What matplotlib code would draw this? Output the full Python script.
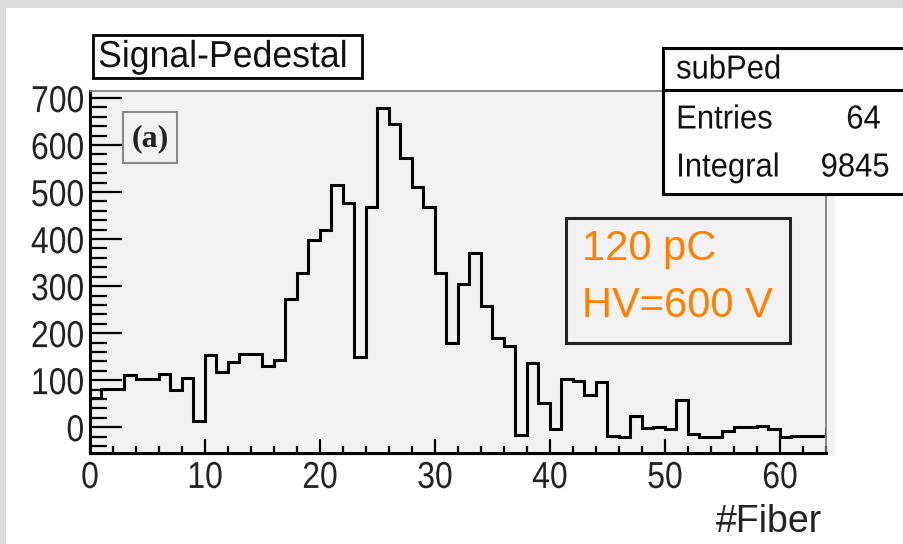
import numpy as np
import matplotlib
matplotlib.use("Agg")
import matplotlib.pyplot as plt
from matplotlib.patches import Rectangle
from matplotlib.patheffects import AbstractPathEffect
from matplotlib.transforms import Affine2D
from matplotlib.ticker import MultipleLocator

# subPed histogram: 64 fibers, pedestal subtracted signal
fiber_edges = np.arange(0, 65)
counts = [61, 82, 82, 111, 102, 102, 114, 79, 104, 13,
          153, 118, 138, 155, 155, 130, 143, 272, 327, 398,
          419, 515, 477, 150, 469, 678, 645, 573, 510, 469,
          328, 178, 304, 370, 258, 189, 173, -17, 137, 52,
          -3, 102, 99, 69, 97, -19, -21, 24, -1, 0,
          -3, 58, -14, -21, -21, -9, 0, 0, 2, -3,
          -21, -19, -19, -19]
x_ticks = [0, 10, 20, 30, 40, 50, 60]
y_ticks = [0, 100, 200, 300, 400, 500, 600, 700]
n_entries = 64
integral = 9845

W, H = 904, 544
sans = ["Liberation Sans", "DejaVu Sans"]


class Squeeze(AbstractPathEffect):
    """Narrows glyphs horizontally around a fixed anchor of the text."""

    def __init__(self, sx, anchor="center"):
        super().__init__()
        self.sx = sx
        self.anchor = anchor

    def draw_path(self, renderer, gc, tpath, affine, rgbFace=None):
        ext = tpath.get_extents(affine)
        if self.anchor == "right":
            x0 = ext.x1
        elif self.anchor == "left":
            x0 = ext.x0
        else:
            x0 = 0.5 * (ext.x0 + ext.x1)
        squeeze = Affine2D().translate(-x0, 0).scale(self.sx, 1).translate(x0, 0)
        renderer.draw_path(gc, tpath, affine + squeeze, rgbFace)


fig = plt.figure(figsize=(W / 100, H / 100), dpi=100, facecolor="#dcdcdc")

def fx(px):
    return px / W

def fy(py):
    return 1 - py / H

# white canvas inside the outer grey border
fig.patches.append(Rectangle((fx(6), 0), fx(W - 6), fy(8), transform=fig.transFigure,
                             facecolor="white", edgecolor="none", zorder=-3))
# light pad fill
fig.patches.append(Rectangle((fx(90), fy(456)), fx(835 - 90), fy(91) - fy(456),
                             transform=fig.transFigure, facecolor="#f2f2f2",
                             edgecolor="none", zorder=-2))

ax = fig.add_axes([fx(90), fy(453), fx(826 - 90), fy(91) - fy(453)])
ax.set_facecolor("#f2f2f2")
ax.stairs(counts, fiber_edges, color="black", linewidth=2.2)

ax.set_xlim(0, 64)
ax.set_ylim(-55, 715)
ax.set_xticks(x_ticks)
ax.set_yticks(y_ticks)
ax.xaxis.set_minor_locator(MultipleLocator(2))
ax.yaxis.set_minor_locator(MultipleLocator(20))
ax.tick_params(axis="both", which="both", direction="in", top=False, right=False,
               colors="black", width=1.6)
ax.tick_params(axis="x", which="major", length=10, pad=5)
ax.tick_params(axis="x", which="minor", length=5)
ax.tick_params(axis="y", which="major", length=23, pad=4)
ax.tick_params(axis="y", which="minor", length=12)
for lab in ax.get_xticklabels():
    lab.set(family=sans, fontsize=27, color="#222222")
    lab.set_path_effects([Squeeze(0.85, "center")])
for lab in ax.get_yticklabels():
    lab.set(family=sans, fontsize=27, color="#222222")
    lab.set_path_effects([Squeeze(0.85, "right")])

for side in ("left", "bottom"):
    ax.spines[side].set_linewidth(2.2)
    ax.spines[side].set_color("black")
for side in ("top", "right"):
    ax.spines[side].set_linewidth(1.2)
    ax.spines[side].set_color("#777777")

fig.text(fx(822), fy(522), "#Fiber", ha="right", va="center", family=sans,
         fontsize=27, color="#222222")

# title box
fig.patches.append(Rectangle((fx(93), fy(78)), fx(362 - 93), fy(35) - fy(78),
                             transform=fig.transFigure, facecolor="white",
                             edgecolor="black", linewidth=2, zorder=3))
fig.text(fx(98), fy(57), "Signal-Pedestal", ha="left", va="center", family=sans,
         fontsize=27, color="#111111", zorder=4,
         path_effects=[Squeeze(0.95, "left")])

# panel label
fig.patches.append(Rectangle((fx(123), fy(163)), fx(177 - 123), fy(112) - fy(163),
                             transform=fig.transFigure, facecolor="#f2f2f2",
                             edgecolor="#888888", linewidth=1.5, zorder=3))
fig.text(fx(150), fy(139), "(a)", ha="center", va="center", family="Liberation Serif",
         fontweight="bold", fontsize=23, color="#222222", zorder=4)

# stats box
fig.patches.append(Rectangle((fx(663), fy(194)), fx(W + 10 - 663), fy(48) - fy(194),
                             transform=fig.transFigure, facecolor="white",
                             edgecolor="black", linewidth=2.2, zorder=3))
fig.lines.append(plt.Line2D([fx(663), fx(W)], [fy(90), fy(90)], transform=fig.transFigure,
                            color="black", linewidth=2.2, zorder=4))
stat_kw = dict(family=sans, fontsize=24, color="#111111", va="center", zorder=5)
fig.text(fx(676), fy(70), "subPed", ha="left", path_effects=[Squeeze(0.93, "left")], **stat_kw)
fig.text(fx(676), fy(120), "Entries", ha="left", path_effects=[Squeeze(0.93, "left")], **stat_kw)
fig.text(fx(881), fy(120), str(n_entries), ha="right", path_effects=[Squeeze(0.93, "right")], **stat_kw)
fig.text(fx(676), fy(168), "Integral", ha="left", path_effects=[Squeeze(0.93, "left")], **stat_kw)
fig.text(fx(890), fy(168), str(integral), ha="right", path_effects=[Squeeze(0.93, "right")], **stat_kw)

# run conditions box
fig.patches.append(Rectangle((fx(566), fy(343)), fx(790 - 566), fy(218) - fy(343),
                             transform=fig.transFigure, facecolor="#f2f2f2",
                             edgecolor="#222222", linewidth=2.2, zorder=3))
cond_kw = dict(family=sans, fontsize=30, color="#ff7f00", ha="left",
               va="center", zorder=4)
fig.text(fx(582), fy(249), "120 pC", **cond_kw)
fig.text(fx(582), fy(306), "HV=600 V", **cond_kw)

fig.savefig("out.png", dpi=100, facecolor=fig.get_facecolor())
